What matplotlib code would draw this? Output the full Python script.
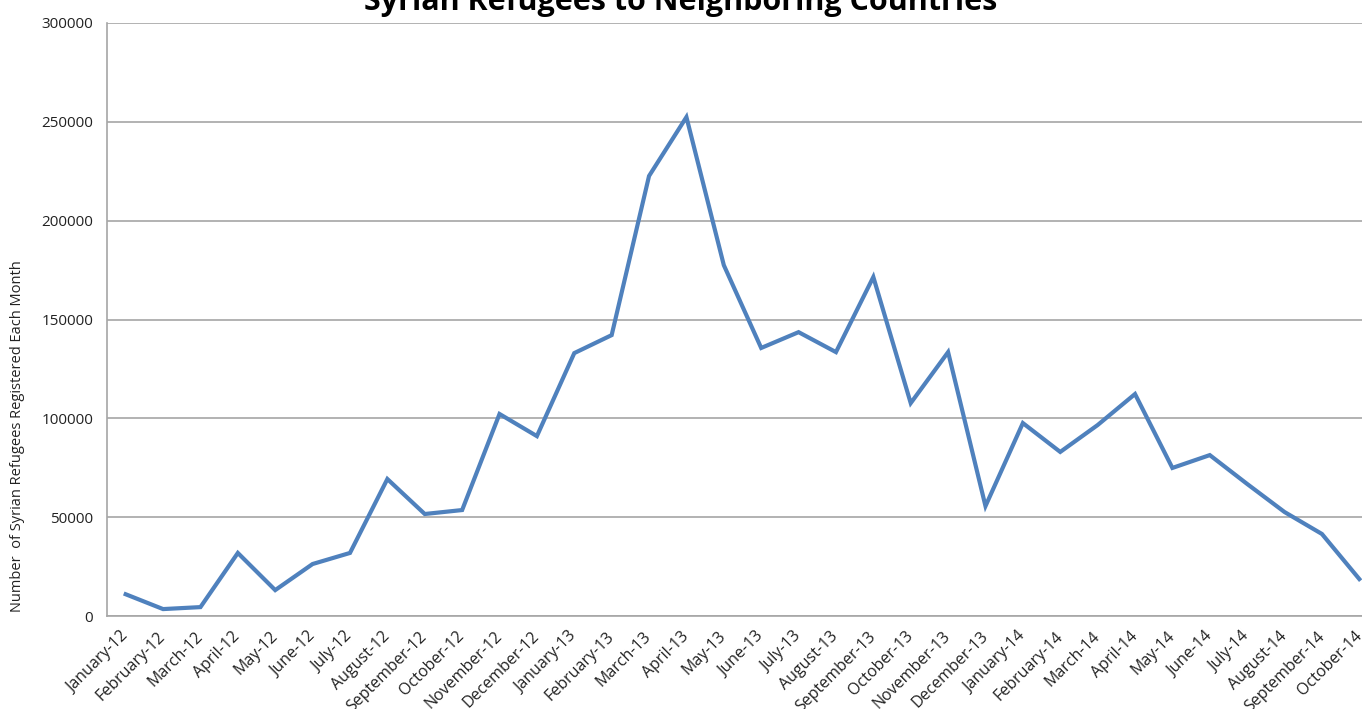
import numpy as np
import matplotlib
matplotlib.use("Agg")
import matplotlib.pyplot as plt

# === Data ===
months = ["January-12", "February-12", "March-12", "April-12", "May-12", "June-12",
          "July-12", "August-12", "September-12", "October-12", "November-12", "December-12",
          "January-13", "February-13", "March-13", "April-13", "May-13", "June-13",
          "July-13", "August-13", "September-13", "October-13", "November-13", "December-13",
          "January-14", "February-14", "March-14", "April-14", "May-14", "June-14",
          "July-14", "August-14", "September-14", "October-14"]
refugees = [11000, 3500, 4500, 31900, 13100, 26300,
            31900, 69300, 51600, 53600, 102200, 91000,
            133000, 142100, 222600, 252400, 177500, 135600,
            143600, 133500, 171500, 107700, 133500, 55600,
            97600, 83000, 96600, 112300, 74900, 81400,
            66800, 52600, 41500, 18700]
yticks = [0, 50000, 100000, 150000, 200000, 250000, 300000]

W, H = 1362, 709
plt.rcParams['font.family'] = ['Open Sans', 'DejaVu Sans']

fig = plt.figure(figsize=(W / 100, H / 100), dpi=100)
# plot area runs past the right edge, like the cropped original
left, right, top, bottom = 107, 1378, 23, 616
ax = fig.add_axes([left / W, 1 - bottom / H, (right - left) / W, (bottom - top) / H])

x = np.arange(len(months))
ax.plot(x, refugees, color="#4F81BD", lw=3, solid_joinstyle="miter")

ax.set_xlim(-0.5, len(months) - 0.5)
ax.set_ylim(0, 300000)
ax.set_yticks(yticks)
ax.set_yticklabels([str(v) for v in yticks], fontsize=11, color="#222222")
ax.yaxis.grid(True, color="#A6A6A6", lw=1.2)
ax.set_axisbelow(True)

ax.set_xticks(x)
ax.set_xticklabels(months, rotation=45, ha="right", va="center", rotation_mode="anchor",
                   fontsize=11.5, color="#222222")
ax.tick_params(axis="both", length=0)
ax.tick_params(axis="y", pad=10)
ax.tick_params(axis="x", pad=13)

for s in ["top", "right"]:
    ax.spines[s].set_visible(False)
ax.spines["left"].set_color("#A6A6A6")
ax.spines["bottom"].set_color("#A6A6A6")
ax.spines["left"].set_linewidth(1.2)
ax.spines["bottom"].set_linewidth(1.2)

fig.text(681 / W, 1 - 10 / H, "Syrian Refugees to Neighboring Countries",
         ha="center", va="baseline", fontsize=22, fontweight="bold")
fig.text(18 / W, 1 - 436 / H, "Number  of Syrian Refugees Registered Each Month",
         rotation=90, ha="center", va="center", fontsize=10.5, color="#222222")

fig.savefig("out.png", dpi=100)
